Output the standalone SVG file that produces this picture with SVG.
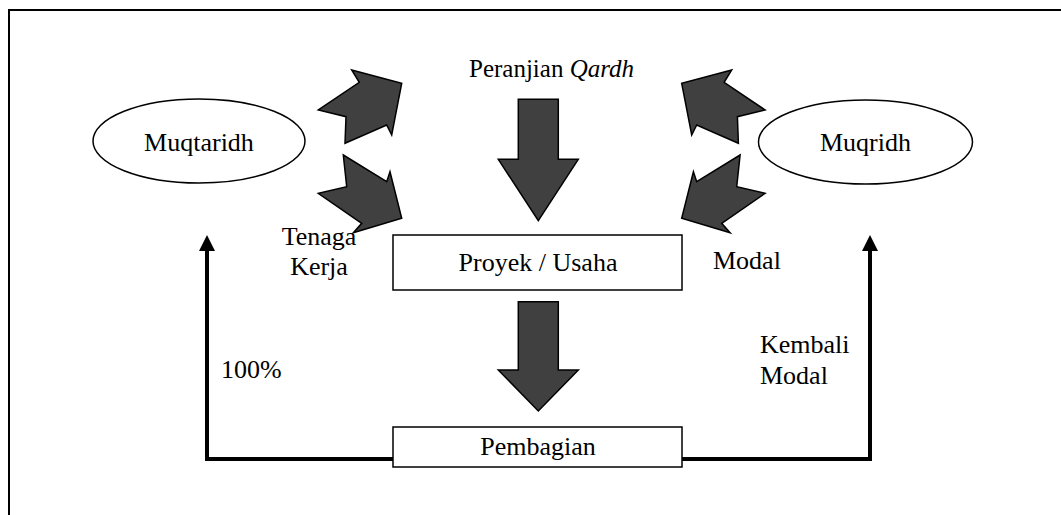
<svg xmlns="http://www.w3.org/2000/svg" width="1061" height="515" viewBox="0 0 1061 515">
<style>
.t{font-family:"Liberation Serif","Times New Roman",serif;font-size:26px;fill:#000}
.node{fill:#fff;stroke:#000;stroke-width:1.5}
.blk{fill:#404040;stroke:#000;stroke-width:1.5;stroke-linejoin:miter}
.conn{fill:none;stroke:#000;stroke-width:4}
.head{fill:#000}
</style>
<defs>
<polygon id="upArrL" points="401.7,83.3 391.7,135 386.7,125 345,143.3 346,116.7 318.3,110 359.3,82.3 351.7,70"/>
<polygon id="dnArrL" points="343.3,155 386.7,181.7 390,171.7 401.7,218.3 353.3,232.7 361.7,223.3 318.3,193.3 346.7,186.7"/>
</defs>
<rect x="9" y="10" width="1070" height="520" fill="none" stroke="#000" stroke-width="2"/>

<g id="connectors">
<path class="conn" d="M393,459 H207 V249"/>
<polygon class="head" points="199,251 207,235 215,251"/>
<path class="conn" d="M682,459 H870 V249"/>
<polygon class="head" points="862,251 870,235 878,251"/>
</g>

<g id="arrows">
<use href="#upArrL" class="blk"/>
<use href="#dnArrL" class="blk"/>
<g transform="translate(1083.4,0) scale(-1,1)">
<use href="#upArrL" class="blk"/>
<use href="#dnArrL" class="blk"/>
</g>
<polygon class="blk" points="518.3,99.3 558.3,99.3 558.3,159.3 578.3,159.3 538.3,220.7 498.3,159.3 518.3,159.3"/>
<polygon class="blk" points="518.3,301.7 558.3,301.7 558.3,370 578.3,370 538.3,411 498.3,370 518.3,370"/>
</g>

<g id="muqtaridh">
<ellipse class="node" cx="199" cy="141" rx="106" ry="42"/>
<text class="t" x="199" y="151" text-anchor="middle">Muqtaridh</text>
</g>
<g id="muqridh">
<ellipse class="node" cx="865.5" cy="142" rx="107" ry="42"/>
<text class="t" x="865.5" y="151" text-anchor="middle">Muqridh</text>
</g>
<g id="proyek">
<rect class="node" x="393" y="235" width="289" height="55"/>
<text class="t" x="538" y="271" text-anchor="middle">Proyek / Usaha</text>
</g>
<g id="pembagian">
<rect class="node" x="393" y="427" width="289" height="40"/>
<text class="t" x="538" y="455" text-anchor="middle">Pembagian</text>
</g>

<g id="labels">
<text class="t" x="469" y="77" style="font-size:25px">Peranjian <tspan font-style="italic">Qardh</tspan></text>
<text class="t" x="319" y="245" text-anchor="middle">Tenaga</text>
<text class="t" x="319" y="275" text-anchor="middle">Kerja</text>
<text class="t" x="713" y="269">Modal</text>
<text class="t" x="760" y="353">Kembali</text>
<text class="t" x="760" y="384">Modal</text>
<text class="t" x="221" y="378">100%</text>
</g>
</svg>
